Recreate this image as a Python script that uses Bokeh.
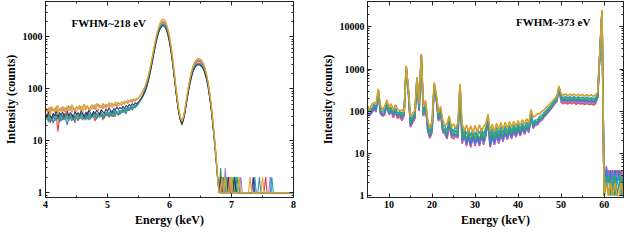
import numpy as np
from bokeh.plotting import figure
from bokeh.layouts import row
from bokeh.models import (LogAxis, LinearAxis, Label, Range1d,
                          SingleIntervalTicker, LogTicker, PrintfTickFormatter,
                          CustomJSTickFormatter)
from bokeh.embed import file_html
from bokeh.resources import INLINE

# ---------------- left panel: Mn K lines (4-8 keV), 0.025 keV bins ----------------
energy_left = np.round(np.arange(4.0, 8.0001, 0.025), 3)

left_red = [30,26,34,22,28,31,24,29,15,27, 33,25,30,28,35,24,31,27,29,22, 33,30,26,34,28,31,25,36,30,27,
            33,29,24,34,31,28,37,25,33,30, 38,28,35,32,29,40,34,31,38,36, 42,35,40,44,38,46,42,48,45,52, 55,
            60,68,78,92,112,145,195,270,390,560, 800,1080,1380,1660,1860,1920,1830,1590,1260,910,
            600,360,200,110,62,38,27,22,27,38, 60,92,135,185,240,285,318,338,342,332,
            308,270,222,168,118,75,44,22,11,5, 2,1,
            1,2,1,1,2,1,1,2,1,1,1,1, 1,1,1,1,1,1,1,1,1,1,1,1, 1,1,1,1,1,2,1,1,1,1,1,1, 1,1,1,1,1,1,1,1,1,1,1,1]
left_blue = [28,33,25,30,27,22,29,32,26,30, 24,28,31,26,20,29,27,33,25,30, 28,24,32,27,30,26,33,29,25,31,
             28,34,30,26,32,29,35,31,27,33, 30,36,32,29,38,33,35,31,37,34, 39,36,33,40,38,42,39,45,43,48, 52,
             60,66,75,88,105,136,182,252,362,520, 740,1000,1270,1520,1690,1740,1660,1440,1150,830,
             550,330,185,100,58,36,26,21,26,36, 56,86,124,170,218,260,288,305,310,302,
             282,248,205,156,110,70,40,21,10,5, 2,1,
             1,1,2,1,1,1,2,1,1,2,1,1, 1,1,1,1,1,1,1,1,1,1,2,1, 1,1,1,1,1,1,1,1,1,1,1,1, 1,1,1,1,1,1,1,1,1,1,1,1]
left_purple = [36,42,33,45,38,40,35,44,37,41, 39,46,36,43,40,48,38,44,41,37, 45,40,47,38,43,50,41,46,39,44,
               42,48,40,46,52,43,47,41,49,45, 50,44,48,53,46,51,47,55,50,49, 54,51,58,52,56,60,55,61,58,63, 66,
               72,80,90,104,124,156,205,282,400,570, 810,1090,1380,1640,1820,1870,1780,1550,1230,890,
               590,355,198,108,62,38,27,23,28,40, 63,97,142,195,252,300,335,355,360,350,
               325,285,233,176,122,78,45,23,11,5, 2,1,
               1,1,1,3,1,2,1,1,1,1,1,1, 1,2,1,1,1,1,1,1,1,1,1,1, 1,1,1,1,1,1,1,1,2,1,1,1, 1,1,1,1,1,1,1,1,1,1,1,1]
left_green = [25,29,32,27,24,30,26,28,31,23, 27,30,25,29,26,32,28,24,30,27, 29,26,31,28,25,30,27,33,28,26,
              31,28,33,27,30,34,29,32,28,35, 31,34,30,36,33,29,37,34,32,38, 35,40,37,42,39,44,41,46,44,50, 54,
              58,65,74,87,104,134,178,246,354,510, 725,985,1250,1490,1650,1700,1620,1410,1120,810,
              535,322,180,98,56,35,25,20,25,35, 55,84,121,166,212,252,280,296,300,292,
              273,240,198,150,106,67,38,20,9,4, 2,1,
              3,1,2,1,1,1,1,1,2,1,1,2, 1,1,1,1,1,1,1,1,1,1,1,1, 1,1,1,1,1,1,1,1,1,1,1,1, 1,1,1,1,1,1,1,1,1,1,1,1]
left_orange = [40,35,44,31,38,42,36,47,33,39, 43,37,45,34,41,38,46,35,42,39, 36,44,40,47,37,43,39,48,41,38,
               45,40,49,42,38,46,43,50,44,41, 48,45,52,43,50,47,54,46,51,49, 55,50,57,53,59,56,62,58,64,61, 66,
               72,80,92,108,130,165,220,305,440,630, 900,1220,1570,1890,2120,2200,2090,1820,1440,1040,
               690,410,225,120,68,41,29,24,29,42, 66,102,150,206,266,318,355,378,385,374,
               347,304,248,188,130,83,48,25,12,6, 2,1,
               1,2,1,1,1,1,2,1,1,1,1,1, 1,1,1,1,1,1,1,2,1,1,1,1, 1,1,1,2,1,1,1,1,1,1,1,1, 1,1,1,1,1,1,1,1,1,1,1,1]
left_teal = [30,27,23,31,28,33,25,29,27,32, 26,30,34,27,29,25,32,28,31,26, 33,29,27,31,35,28,30,26,34,29,
             32,36,29,33,30,35,31,28,36,33, 35,31,38,34,36,40,33,37,39,35, 41,38,43,40,45,42,47,44,49,46, 53,
             59,67,76,89,107,138,184,255,367,528, 750,1015,1290,1540,1705,1760,1675,1455,1160,838,
             555,333,186,101,58,36,26,22,27,37, 57,88,127,174,223,265,293,310,314,306,
             286,251,207,158,111,71,40,21,10,5, 2,1,
             1,1,1,1,2,1,1,1,1,1,2,1, 1,1,1,1,1,1,1,1,1,1,1,1, 1,2,1,1,1,1,1,1,1,2,1,1, 1,1,1,1,1,1,1,1,1,1,1,1]
left_navy = [33,29,36,31,27,34,30,38,28,35, 31,36,29,33,38,30,35,32,28,37, 32,35,30,38,33,29,36,31,39,34,
             30,37,33,39,35,32,40,36,34,41, 37,43,38,35,42,39,45,40,44,41, 46,42,48,45,50,47,52,49,54,51, 56,
             60,66,74,86,102,130,172,238,342,490, 700,950,1210,1440,1595,1640,1560,1360,1080,780,
             515,310,173,95,55,34,25,21,26,35, 54,82,118,160,205,245,272,287,290,283,
             264,232,191,146,103,66,38,20,10,5, 2,1,
             2,1,1,1,1,2,1,1,1,2,1,1, 1,1,1,1,1,1,1,1,1,2,1,1, 1,1,1,1,1,1,1,1,1,1,1,1, 1,1,1,1,1,1,1,1,1,1,1,1]
left_gold = [44,38,41,35,46,39,43,37,48,40, 36,45,41,38,47,42,39,50,44,40, 46,41,49,38,44,51,42,47,40,45,
             50,43,48,52,45,49,44,53,47,51, 46,55,49,52,48,56,51,54,50,57, 53,58,55,60,57,62,59,64,61,66, 68,
             74,82,93,108,128,162,214,296,425,605, 860,1160,1480,1770,1980,2050,1950,1700,1350,975,
             645,385,212,114,65,40,28,24,29,41, 65,100,146,200,258,308,343,365,370,360,
             334,293,240,182,126,80,46,24,11,5, 2,1,
             1,1,1,2,1,1,1,2,1,1,1,1, 2,1,1,1,1,1,1,1,1,1,1,1, 1,1,1,1,1,1,1,1,1,1,1,1, 1,1,1,1,1,1,1,1,1,1,1,1]

left_series = [("red", left_red, "#e0404a"), ("blue", left_blue, "#3c7fd0"),
               ("purple", left_purple, "#a678e0"), ("green", left_green, "#3d9a55"),
               ("teal", left_teal, "#25a3b5"), ("navy", left_navy, "#2f4068"),
               ("orange", left_orange, "#f59a3c"), ("gold", left_gold, "#d8a82a")]
for name, vals, _ in left_series:
    assert len(vals) == len(energy_left), (name, len(vals))

# ---------------- right panel: Am-241 spectrum (5-65 keV), 0.5 keV bins ----------------
energy_right = np.round(np.arange(5.0, 65.001, 0.5), 2)

right_gold = [135,112,145,160,150,340,140,110,132,185, 125,150,105,142,112,102,108,95,1200,350,
              72,92,100,650,150,2300,125,185,62,40, 58,480,250,92,130,62,45,52,78,42, 50,40,54,450,
              50,34,47,31,45,30,46,32,48,33,44,50,85,34,49,33,52,36,54,38,55,40,57,42,58,44,60,46,63,49,67,53,
              110,
              72,78,88,85,100,105,122,135,155,175,200,228,
              400,
              262,238,258,232,255,236,256,230,252,234,250,228,248,230,246,226,242,280,2500,25000,
              1,2,1,2,1,2,1,1,2,1,1]
right_teal = [110,118,112,145,124,320,112,108,104,168, 115,122,100,118,88,98,90,100,1150,320,
              58,78,88,620,128,2200,98,165,52,33, 44,450,225,84,112,45,44,34,68,40, 32,44,34,420,
              32,40,28,38,26,36,27,37,29,39,28,40,75,27,39,28,41,30,43,31,44,33,46,34,48,36,50,38,52,40,55,43,
              98,
              52,62,63,74,78,92,100,120,132,158,178,202,
              380,
              228,208,225,204,220,206,222,202,218,205,215,200,214,199,210,197,208,250,2400,24000,
              1,3,1,2,3,1,2,3,1,2,1]
right_green = [98,104,108,128,116,310,100,96,97,158, 102,112,90,110,80,94,76,92,1120,305,
               52,70,80,600,116,2150,88,150,46,28, 40,430,210,74,102,40,37,28,60,34, 28,35,28,400,
               24,34,22,30,20,31,22,30,21,32,23,33,68,22,32,23,34,25,36,26,37,28,39,29,41,31,43,33,45,35,47,38,
               90,
               46,56,56,66,70,82,92,105,120,140,165,185,
               365,
               208,190,206,186,202,188,204,184,199,187,196,182,195,181,192,179,190,235,2300,23500,
               1,2,3,1,2,3,1,2,3,1,2]
right_blue = [92,86,100,118,110,300,94,84,90,150, 90,106,82,100,78,84,72,86,1100,295,
              46,64,74,590,108,2100,82,142,38,26, 37,415,200,64,96,36,33,25,56,28, 27,29,26,390,
              20,30,17,27,16,27,18,26,17,28,19,29,62,15,28,18,30,20,31,22,33,24,35,25,37,27,39,29,41,31,44,34,
              84,
              42,52,52,62,66,78,88,100,115,135,160,180,
              355,
              193,176,191,172,188,175,190,171,185,173,182,169,181,168,178,166,176,225,2250,23000,
              1,4,2,4,1,4,2,4,1,3,2]
right_purple = [90,82,96,116,100,295,92,80,86,145, 86,102,78,98,70,80,64,82,1080,290,
                44,60,70,580,104,2080,78,138,36,24, 33,410,195,62,93,33,30,24,53,26, 25,27,24,385,
                18,28,16,25,15,26,16,24,16,26,17,27,60,16,26,16,28,18,29,20,31,22,33,23,35,25,37,27,39,29,41,32,
                80,
                40,50,49,59,63,75,85,97,112,130,155,175,
                350,
                180,165,179,162,176,164,178,160,173,162,170,158,169,157,166,154,164,215,2200,22500,
                1,5,3,4,3,4,3,4,2,4,3]
right_red = [86,78,92,110,96,290,87,76,82,140, 82,98,70,94,66,76,60,78,1060,285,
             42,54,66,570,100,2050,76,134,34,23, 31,405,190,58,90,31,29,22,51,24, 22,26,23,380,
             17,27,15,24,14,25,15,23,15,25,16,26,58,14,25,16,27,17,28,19,30,21,32,22,34,24,36,26,38,28,40,31,
             78,
             39,48,47,57,60,72,82,94,108,126,150,170,
             345,
             164,150,162,148,160,149,161,146,158,147,155,144,154,143,151,141,150,205,2150,22000,
             1,3,4,2,4,2,4,3,4,2,4]

right_series = [("red", right_red, "#e0505a"), ("purple", right_purple, "#a070e0"),
                ("blue", right_blue, "#3c78d8"), ("green", right_green, "#40a060"),
                ("teal", right_teal, "#28a0b0"), ("gold", right_gold, "#d4a02a")]
for name, vals, _ in right_series:
    assert len(vals) == len(energy_right), (name, len(vals))

FONT = "Liberation Serif"
EMPTY = CustomJSTickFormatter(code="return '';")


def tick_style(ax):
    ax.axis_line_color = "#222222"
    ax.major_tick_in = 4
    ax.major_tick_out = 0
    ax.minor_tick_in = 2
    ax.minor_tick_out = 0
    ax.major_tick_line_color = "#222222"
    ax.minor_tick_line_color = "#222222"


def style(p, xticker):
    p.xgrid.grid_line_color = None
    p.ygrid.grid_line_color = None
    p.outline_line_color = "#222222"
    p.background_fill_color = "white"
    p.border_fill_color = "white"
    for ax in p.axis:
        tick_style(ax)
        ax.major_label_text_font = FONT
        ax.major_label_text_font_style = "bold"
        ax.major_label_text_font_size = "10px"
        ax.major_label_text_color = "black"
        ax.major_label_standoff = 3
        ax.axis_label_text_font = FONT
        ax.axis_label_text_font_style = "bold"
        ax.axis_label_text_font_size = "12px"
        ax.axis_label_text_color = "black"
        ax.axis_label_standoff = 2
    p.xaxis.ticker = xticker
    p.yaxis.ticker = LogTicker(num_minor_ticks=10)
    p.yaxis.formatter = PrintfTickFormatter(format="%d")
    p.xaxis.axis_label = "Energy (keV)"
    p.yaxis.axis_label = "Intensity (counts)"
    # mirrored axes (ticks only) on top and right
    top = LinearAxis(ticker=xticker, formatter=EMPTY, major_label_standoff=0)
    rgt = LogAxis(ticker=LogTicker(num_minor_ticks=10), formatter=EMPTY,
                  major_label_standoff=0)
    tick_style(top)
    tick_style(rgt)
    p.add_layout(top, "above")
    p.add_layout(rgt, "right")


H = 229

p1 = figure(width=308, height=H, y_axis_type="log",
            x_range=Range1d(4, 8), y_range=Range1d(0.81, 4800),
            output_backend="svg", toolbar_location=None,
            min_border_left=36, min_border_right=15, min_border_top=1, min_border_bottom=28)
for name, vals, col in left_series:
    p1.line(energy_left, vals, line_color=col, line_width=1.1)
style(p1, SingleIntervalTicker(interval=1, num_minor_ticks=2))
p1.add_layout(Label(x=4.42, y=1830, text="FWHM~218 eV", text_font=FONT,
                    text_font_style="bold", text_font_size="11px",
                    text_baseline="middle", text_align="left", text_color="black"))

p2 = figure(width=316, height=H, y_axis_type="log",
            x_range=Range1d(5, 64.5), y_range=Range1d(0.9, 40000),
            output_backend="svg", toolbar_location=None,
            min_border_left=59, min_border_right=1, min_border_top=1, min_border_bottom=28)
for name, vals, col in right_series:
    p2.line(energy_right, vals, line_color=col, line_width=1.6)
style(p2, SingleIntervalTicker(interval=10, num_minor_ticks=2))
p2.add_layout(Label(x=39.5, y=13000, text="FWHM~373 eV", text_font=FONT,
                    text_font_style="bold", text_font_size="11px",
                    text_baseline="middle", text_align="left", text_color="black"))

layout = row(p1, p2)
open("out.html", "w").write(file_html(layout, INLINE))
